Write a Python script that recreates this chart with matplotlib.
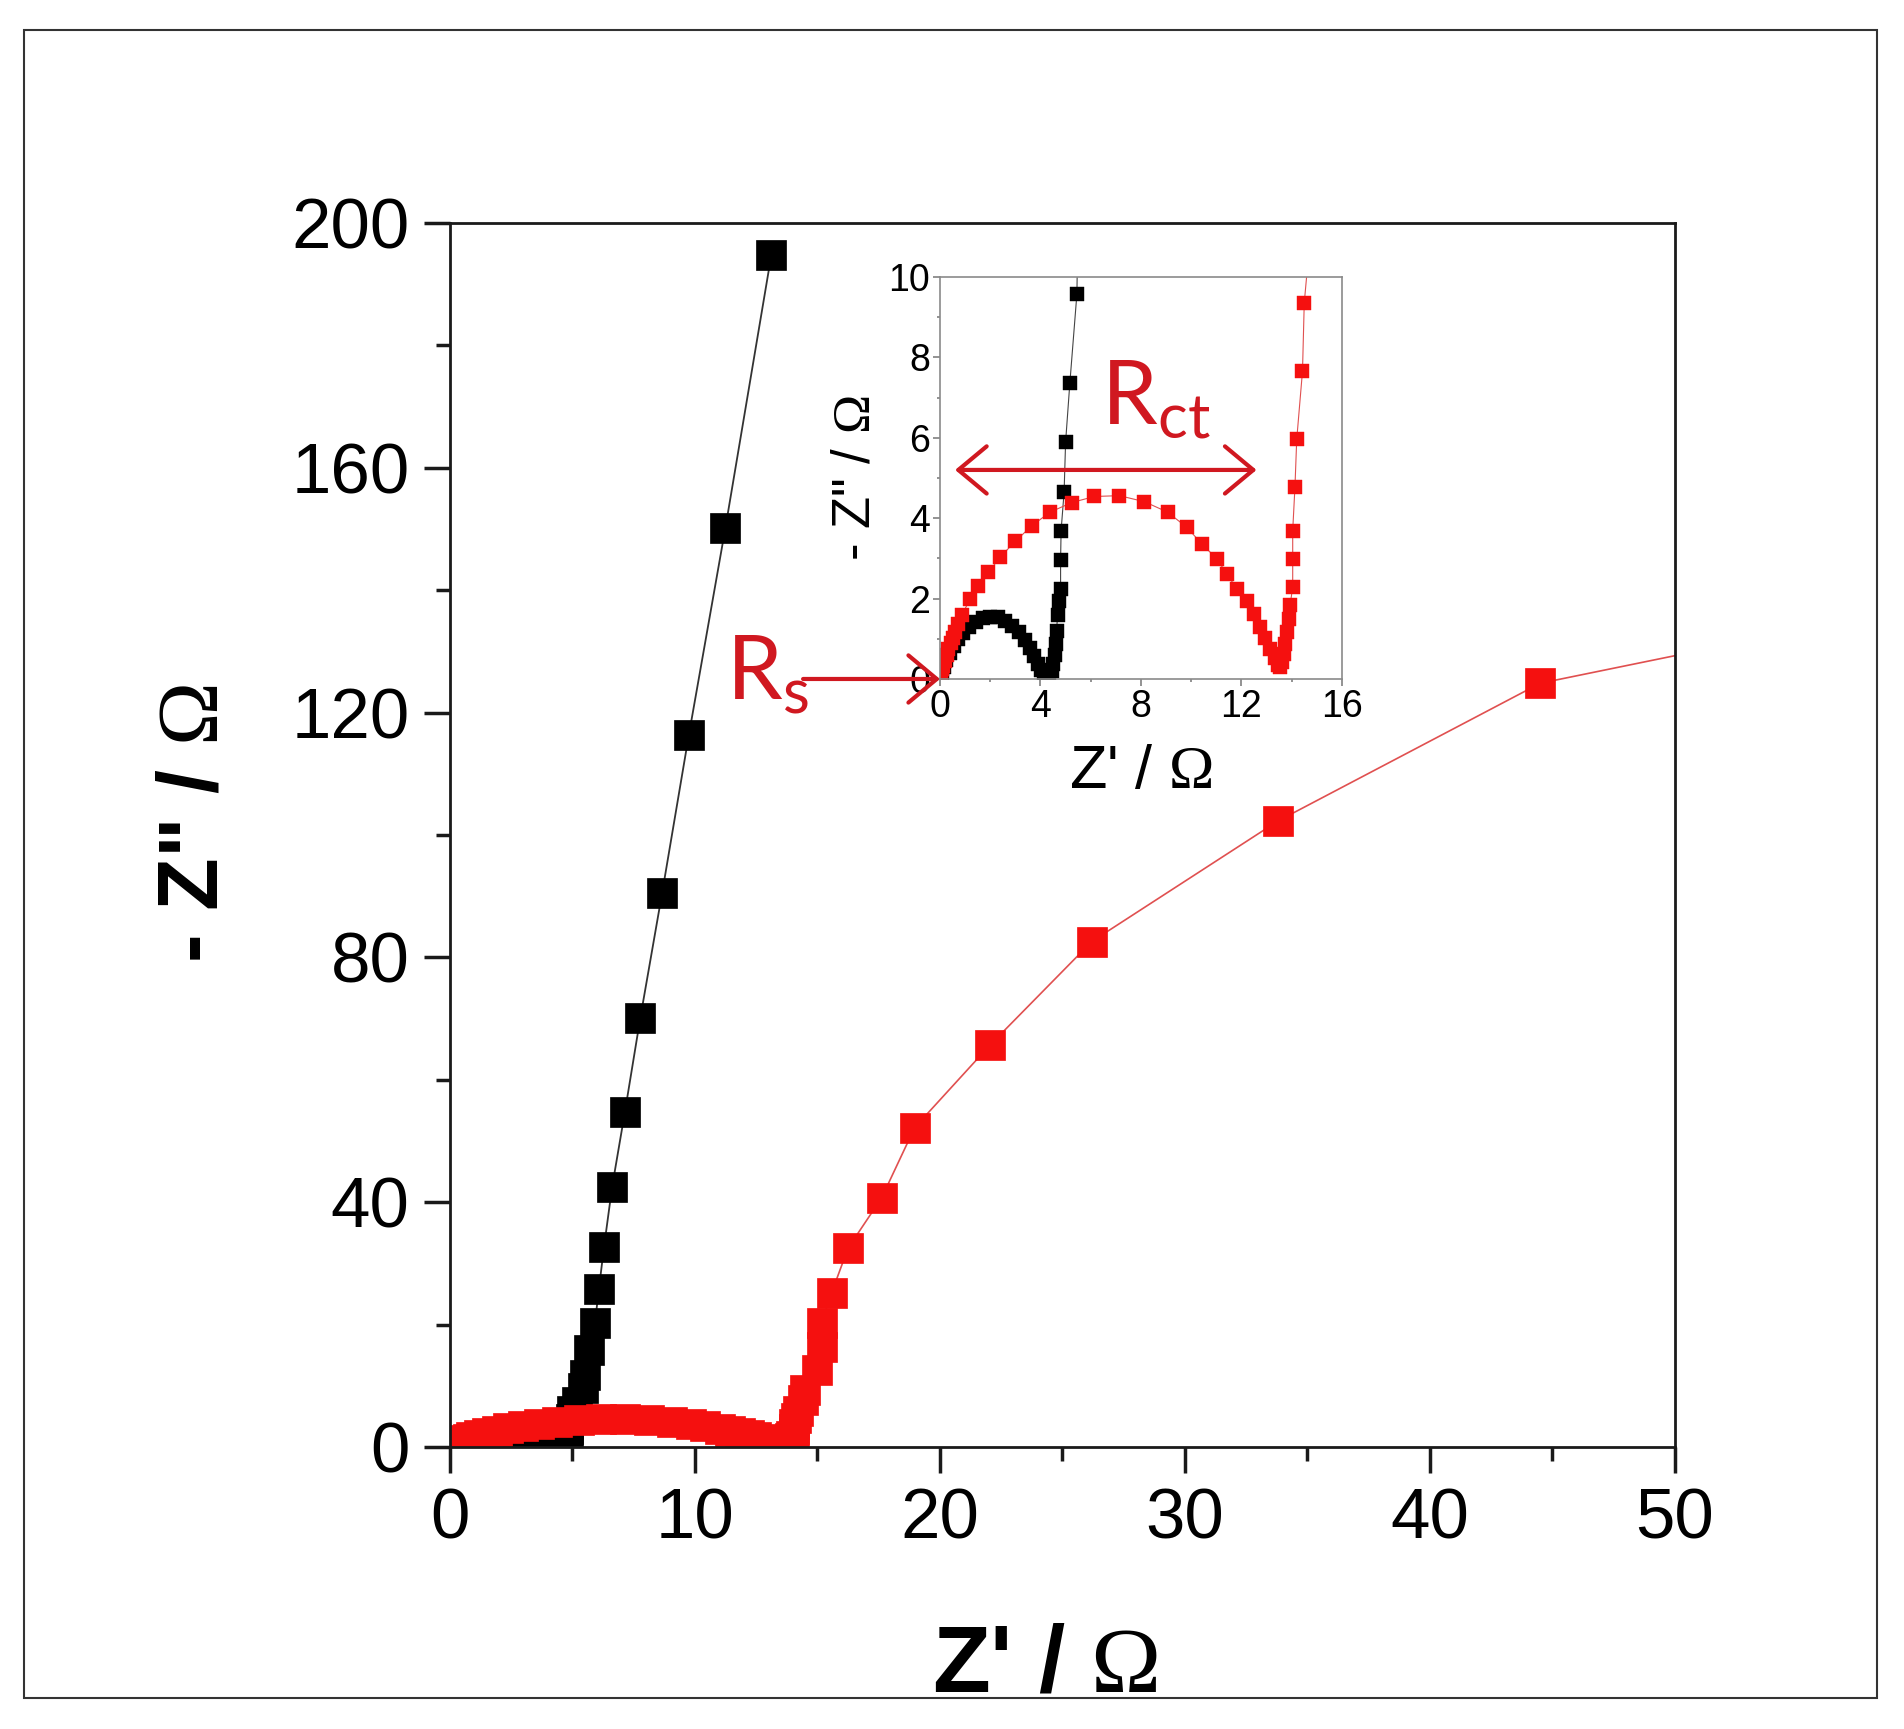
import matplotlib
matplotlib.use("Agg")
import matplotlib.pyplot as plt
from matplotlib.patches import Rectangle
from matplotlib.ticker import MultipleLocator

plt.rcParams['font.family'] = ['Liberation Sans', 'DejaVu Sans']
plt.rcParams['mathtext.fontset'] = 'custom'
plt.rcParams['mathtext.rm'] = 'Liberation Serif'
plt.rcParams['mathtext.sf'] = 'Lato'

# --- Nyquist data, Z' and -Z'' in ohm ---
black_zre = [0.0, 0.06, 0.14, 0.25, 0.38, 0.54, 0.72, 0.93, 1.16, 1.42, 1.7, 2.0,
             2.3, 2.6, 2.88, 3.14, 3.38, 3.58, 3.76, 3.9, 4.02, 4.12, 4.22, 4.34,
             4.44, 4.51, 4.56, 4.6, 4.64, 4.68, 4.73, 4.8, 4.8, 4.82, 4.94, 5.0,
             5.17, 5.45, 5.5, 5.68, 5.92, 6.08, 6.29, 6.62, 7.14, 7.77, 8.66, 9.75,
             11.24, 13.12]
black_zim = [0.0, 0.14, 0.3, 0.47, 0.64, 0.82, 0.99, 1.15, 1.3, 1.42, 1.51, 1.55,
             1.53, 1.45, 1.33, 1.17, 0.98, 0.78, 0.57, 0.38, 0.22, 0.1, 0.04, 0.08,
             0.2, 0.38, 0.6, 0.88, 1.2, 1.58, 1.95, 2.25, 2.95, 3.69, 4.65, 5.9,
             7.37, 9.58, 11.8, 15.9, 20.3, 25.8, 32.7, 42.5, 54.7, 70.1, 90.5, 116.3,
             150.1, 194.8]

red_zre = [0.0, 0.02, 0.05, 0.09, 0.13, 0.19, 0.26, 0.33, 0.42, 0.5, 0.6, 0.72,
           0.86, 1.2, 1.53, 1.93, 2.39, 2.99, 3.65, 4.38, 5.25, 6.15, 7.14, 8.14,
           9.06, 9.83, 10.42, 11.02, 11.42, 11.82, 12.22, 12.5, 12.75, 12.95, 13.15,
           13.32, 13.45, 13.55, 13.6, 13.68, 13.75, 13.82, 13.88, 13.94, 14.04, 14.04,
           14.04, 14.13, 14.2, 14.43, 14.5, 14.97, 15.17, 15.17, 15.58, 16.25, 17.62,
           18.97, 22.05, 26.2, 33.8, 44.5, 60.0]
red_zim = [0.0, 0.06, 0.14, 0.24, 0.33, 0.45, 0.6, 0.75, 0.9, 1.02, 1.16, 1.37,
           1.58, 1.99, 2.32, 2.65, 3.03, 3.42, 3.81, 4.15, 4.39, 4.54, 4.56, 4.41,
           4.15, 3.77, 3.36, 2.99, 2.61, 2.24, 1.95, 1.62, 1.3, 1.02, 0.75,
           0.52, 0.36, 0.3, 0.42, 0.62, 0.88, 1.18, 1.5, 1.85, 2.29, 2.98,
           3.69, 4.78, 5.96, 7.66, 9.36, 12.6, 16.3, 20.3, 25.2, 32.5, 40.7,
           52.2, 65.7, 82.6, 102.3, 124.8, 137.5]

main_xticks = [0, 10, 20, 30, 40, 50]
main_yticks = [0, 40, 80, 120, 160, 200]
inset_xticks = [0, 4, 8, 12, 16]
inset_yticks = [0, 2, 4, 6, 8, 10]

RED = '#f5100f'
ANNOT = '#d01820'

fig = plt.figure(figsize=(19.04, 17.29), dpi=100)

# --- main axes ---
ax = fig.add_axes([0.2363, 0.1631, 0.6434, 0.7079])
ax.plot(black_zre, black_zim, '-s', color='#333333', lw=1.3, ms=22,
        mfc='black', mec='black', mew=0.5)
ax.plot(red_zre, red_zim, '-s', color='#e05050', lw=1.2, ms=22,
        mfc=RED, mec=RED, mew=0.5)
ax.set_xlim(0, 50)
ax.set_ylim(0, 200)
ax.set_xticks(main_xticks)
ax.set_yticks(main_yticks)
ax.xaxis.set_minor_locator(MultipleLocator(5))
ax.yaxis.set_minor_locator(MultipleLocator(20))
ax.tick_params(which='major', direction='out', length=19, width=2.5,
               labelsize=51, pad=10, color='#1a1a1a')
ax.tick_params(which='minor', direction='out', length=10, width=2.5, color='#1a1a1a')
for s in ax.spines.values():
    s.set_linewidth(2.0)
    s.set_color('#1a1a1a')
ax.set_xlabel("Z' / $\\Omega$", fontsize=68, fontweight='bold', labelpad=50)
ax.set_ylabel('- Z" / $\\Omega$', fontsize=62, fontweight='bold', labelpad=40)
ax.xaxis.label.set_x(0.486)
ax.yaxis.label.set_y(0.51)

# --- inset (zoom on the semicircles) ---
axi = fig.add_axes([0.4937, 0.6073, 0.2111, 0.2325])
axi.plot(black_zre, black_zim, '-s', color='#444444', lw=0.8, ms=9.5,
         mfc='black', mec='black', mew=0.3)
axi.plot(red_zre, red_zim, '-s', color='#e05050', lw=0.8, ms=9.5,
         mfc=RED, mec=RED, mew=0.3)
axi.set_xlim(0, 16)
axi.set_ylim(0, 10)
axi.set_xticks(inset_xticks)
axi.set_yticks(inset_yticks)
axi.xaxis.set_minor_locator(MultipleLocator(2))
axi.yaxis.set_minor_locator(MultipleLocator(1))
axi.tick_params(which='major', direction='out', length=5, width=1.2,
                labelsize=27, pad=2, color='#808080')
axi.tick_params(which='minor', direction='out', length=2.5, width=1.2, color='#808080')
for s in axi.spines.values():
    s.set_linewidth(1.2)
    s.set_color('#8a8a8a')
axi.set_xlabel("Z' / $\\Omega$", fontsize=44, labelpad=14)
axi.set_ylabel('- Z" / $\\Omega$', fontsize=38, labelpad=6)

# R_ct double arrow and R_s arrow
arrow_kw = dict(color=ANNOT, lw=3, mutation_scale=34, shrinkA=0, shrinkB=0)
axi.annotate('', xy=(0.6, 5.2), xytext=(12.6, 5.2),
             arrowprops=dict(arrowstyle='<->, head_length=0.6, head_width=0.5',
                             **arrow_kw))
axi.annotate('', xy=(0, 0), xytext=(-5.45, 0), annotation_clip=False,
             arrowprops=dict(arrowstyle='->, head_length=0.6, head_width=0.5',
                             **arrow_kw))
fig.text(1101 / 1904, 1 - 425 / 1729, 'R$_{\\mathsf{ct}}$', fontsize=64,
         family='Lato', color=ANNOT, va='baseline', ha='left')
fig.text(726 / 1904, 1 - 700 / 1729, 'R$_{\\mathsf{s}}$', fontsize=64,
         family='Lato', color=ANNOT, va='baseline', ha='left')

# outer frame around the whole picture
fig.patches.append(Rectangle((0.0126, 0.0179), 0.9732, 0.9647,
                             transform=fig.transFigure, fill=False,
                             lw=1.5, ec='#333333'))

fig.savefig('out.png', dpi=100)
